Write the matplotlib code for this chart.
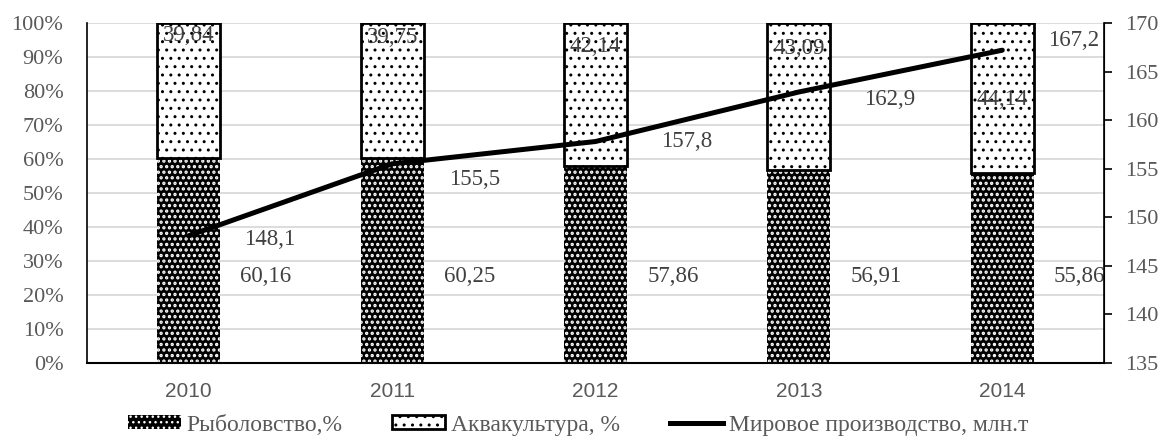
import matplotlib
matplotlib.use('Agg')
import matplotlib.pyplot as plt
import numpy as np
from matplotlib.patches import Patch
from matplotlib.lines import Line2D

# data
years = ['2010', '2011', '2012', '2013', '2014']
fishing = [60.16, 60.25, 57.86, 56.91, 55.86]
aquaculture = [39.84, 39.75, 42.14, 43.09, 44.14]
production = [148.1, 155.5, 157.8, 162.9, 167.2]

fish_lbl = ['60,16', '60,25', '57,86', '56,91', '55,86']
aqua_lbl = ['39,84', '39,75', '42,14', '43,09', '44,14']
prod_lbl = ['148,1', '155,5', '157,8', '162,9', '167,2']

# label placement (as in the original Excel chart)
aqua_lbl_y = [96.2, 95.6, 93.2, 92.4, 77.4]
prod_off = [(81, -4), (83, -16), (91, 0), (91, -8), (71, 10)]

plt.rcParams['font.family'] = ['Liberation Serif', 'DejaVu Serif']
txt_c = '#404040'
tick_c = '#595959'

fig = plt.figure(figsize=(11.64, 4.4), dpi=100)
ax = fig.add_axes([87/1164, 77/440, 1017/1164, 340/440])
ax2 = ax.twinx()

x = np.arange(len(years))
w = 0.31

b1 = ax.bar(x, fishing, w, color='black', edgecolor='white', linewidth=0, hatch='...', zorder=2)
b2 = ax.bar(x, aquaculture, w, bottom=fishing, color='white', edgecolor='black',
            linewidth=2, hatch='..', zorder=2)
for p in b1:
    if hasattr(p, 'set_hatch_linewidth'):
        p.set_hatch_linewidth(1.6)

ax.set_xlim(-0.5, len(years) - 0.5)
ax.set_ylim(0, 100)
ax.set_yticks(np.arange(0, 101, 10))
ax.set_yticklabels([f'{v}%' for v in range(0, 101, 10)])
ax.yaxis.grid(True, color='#d9d9d9', linewidth=1.3, zorder=0)
ax.set_axisbelow(True)

ax.set_xticks(x)
ax.set_xticklabels(years, fontfamily='Liberation Sans', fontsize=15, color=tick_c)
ax.tick_params(axis='x', length=0, pad=14)
ax.tick_params(axis='y', length=0, pad=17, labelsize=16, labelcolor=tick_c)

ax2.plot(x, production, color='black', linewidth=3.6, solid_capstyle='round', zorder=3)
ax2.set_ylim(135, 170)
ax2.set_yticks(np.arange(135, 171, 5))
ax2.tick_params(axis='y', direction='out', length=6, width=1.2, pad=9,
                labelsize=16, labelcolor=tick_c)

for a in (ax, ax2):
    a.spines['top'].set_visible(False)
ax.spines['left'].set_linewidth(1.2)
ax.spines['bottom'].set_linewidth(1.5)
ax2.spines['right'].set_linewidth(1.2)
ax2.spines['left'].set_visible(False)
ax2.spines['bottom'].set_visible(False)

# data labels
for i in range(len(years)):
    ax.text(x[i] + 0.38, 25.5, fish_lbl[i], ha='center', va='center', fontsize=16.5, color=txt_c, zorder=5)
    ax.text(x[i], aqua_lbl_y[i], aqua_lbl[i], ha='center', va='center', fontsize=16.5, color=txt_c, zorder=5)
    ax2.annotate(prod_lbl[i], (x[i], production[i]), xytext=(prod_off[i][0] * 0.72, prod_off[i][1] * 0.72),
                 textcoords='offset points', ha='center', va='center', fontsize=16.5, color=txt_c)

handles = [
    Patch(facecolor='black', edgecolor='white', linewidth=0, hatch='...'),
    Patch(facecolor='white', edgecolor='black', linewidth=2, hatch='..'),
    Line2D([0], [0], color='black', linewidth=3.6),
]
labels = ['Рыболовство,%', 'Аквакультура, %', 'Мировое производство, млн.т']
leg = fig.legend(handles, labels, loc='center', bbox_to_anchor=(578/1164, 1 - 425/440), ncol=3,
                 frameon=False, fontsize=17, handlelength=2.25, handleheight=0.5,
                 handletextpad=0.25, columnspacing=2.1, labelcolor=tick_c)

fig.savefig('out.png', dpi=100)
